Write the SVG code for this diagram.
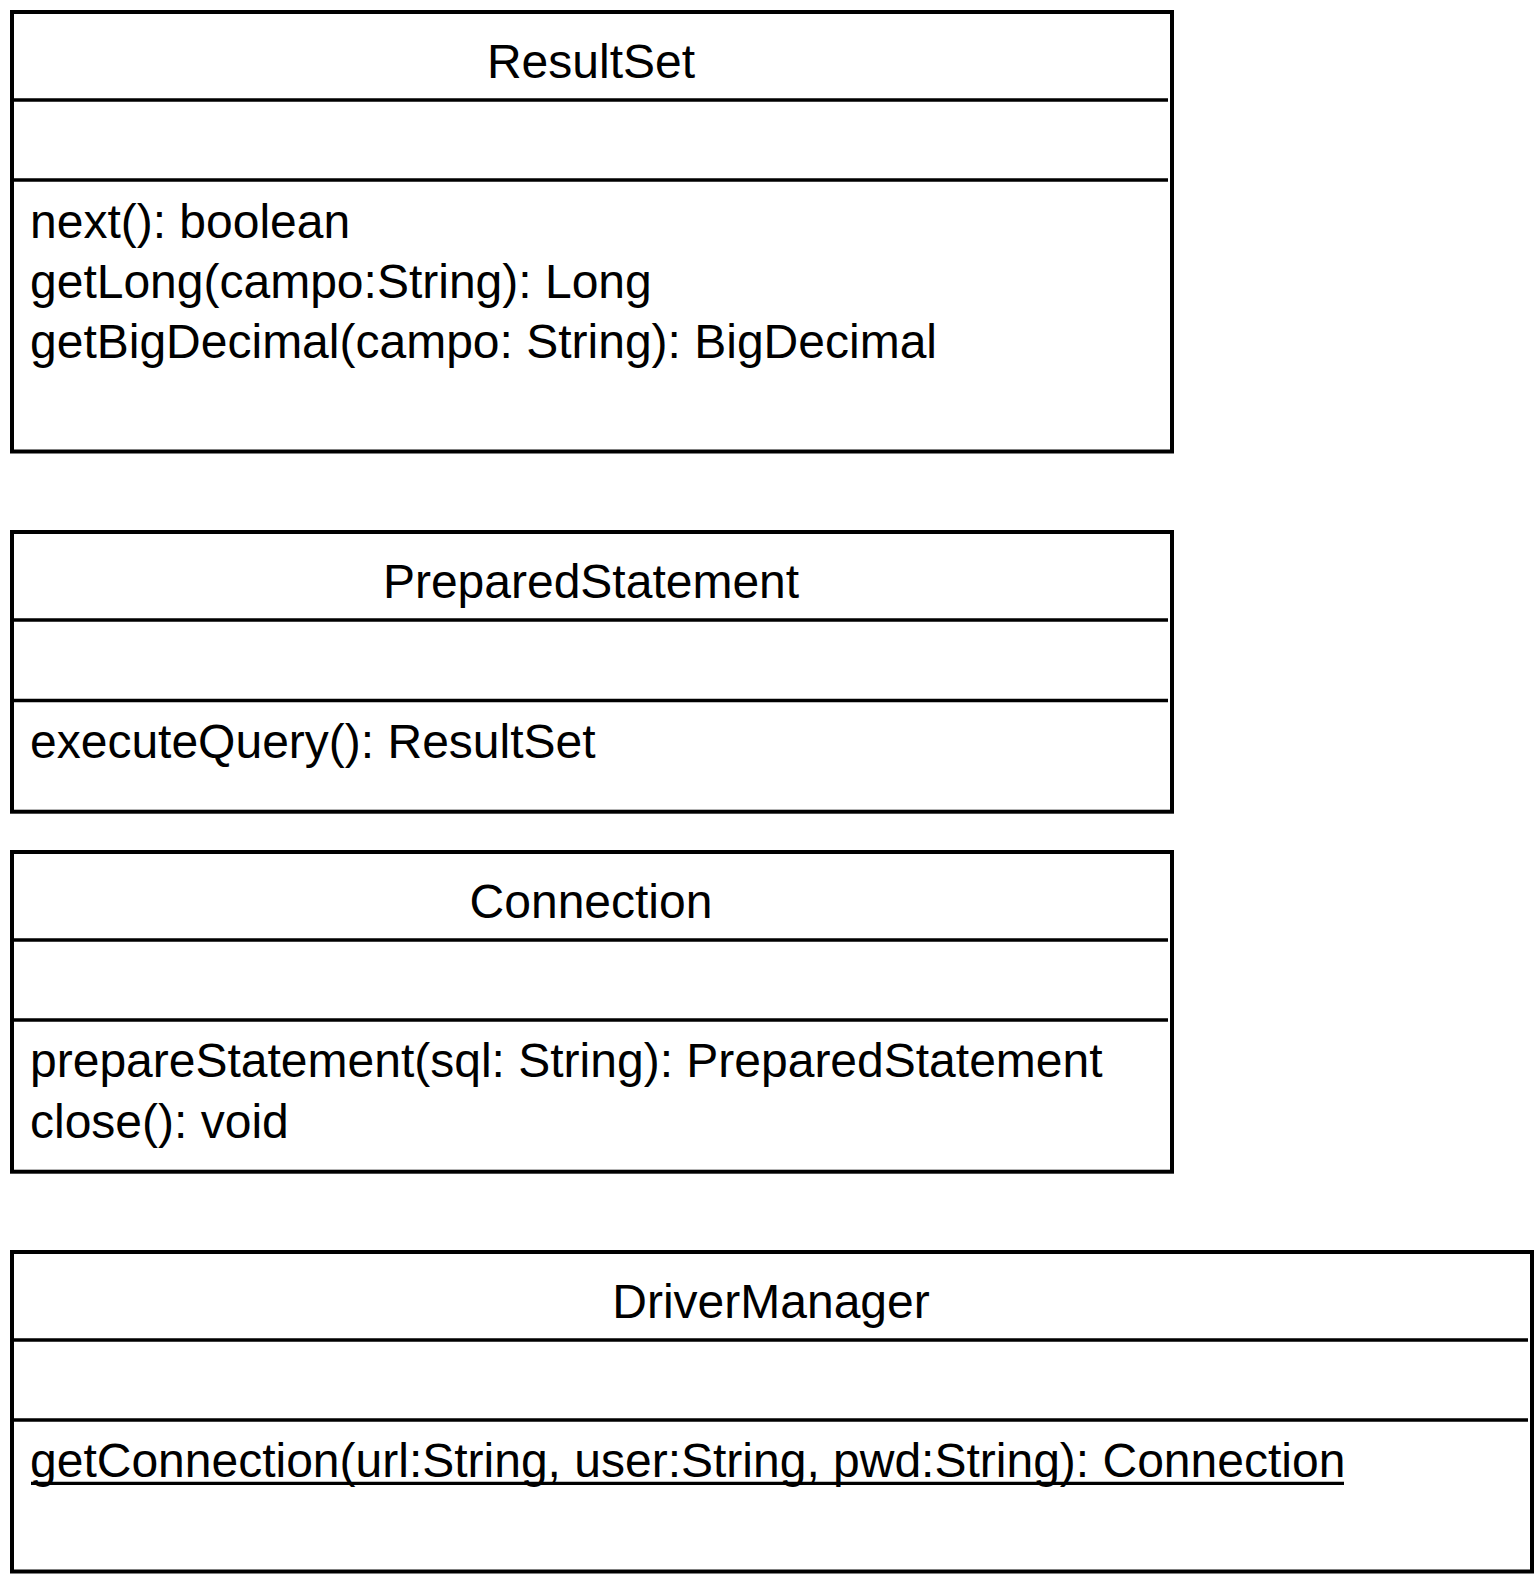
<svg xmlns="http://www.w3.org/2000/svg" width="1540" height="1580" viewBox="0 0 1540 1580">
<style>
.box{fill:#fff;stroke:#000;stroke-width:4}
.div{stroke:#000;stroke-width:3.4;fill:none}
.t{font-family:"Liberation Sans",Arial,sans-serif;font-size:48px;fill:#000}
.c{text-anchor:middle}
</style>
<rect width="1540" height="1580" fill="#fff"/>
<g id="connectors"></g>
<g id="ResultSet">
<rect class="box" x="12" y="12" width="1160" height="439.5"/>
<line class="div" x1="12" y1="100" x2="1168" y2="100"/>
<line class="div" x1="12" y1="180" x2="1168" y2="180"/>
<text class="t c" x="591" y="78.3">ResultSet</text>
<text class="t" x="30" y="238">next(): boolean</text>
<text class="t" x="30" y="298">getLong(campo:String): Long</text>
<text class="t" x="30" y="358">getBigDecimal(campo: String): BigDecimal</text>
</g>
<g id="PreparedStatement">
<rect class="box" x="12" y="532" width="1160" height="279.7"/>
<line class="div" x1="12" y1="620" x2="1168" y2="620"/>
<line class="div" x1="12" y1="700.5" x2="1168" y2="700.5"/>
<text class="t c" x="591" y="598.3">PreparedStatement</text>
<text class="t" x="30" y="758.3">executeQuery(): ResultSet</text>
</g>
<g id="Connection">
<rect class="box" x="12" y="852" width="1160" height="319.7"/>
<line class="div" x1="12" y1="940" x2="1168" y2="940"/>
<line class="div" x1="12" y1="1020" x2="1168" y2="1020"/>
<text class="t c" x="591" y="918.3">Connection</text>
<text class="t" x="30" y="1076.7">prepareStatement(sql: String): PreparedStatement</text>
<text class="t" x="30" y="1137.7">close(): void</text>
</g>
<g id="DriverManager">
<rect class="box" x="12" y="1252" width="1520" height="319.5"/>
<line class="div" x1="12" y1="1340" x2="1528" y2="1340"/>
<line class="div" x1="12" y1="1420" x2="1528" y2="1420"/>
<text class="t c" x="771" y="1318.3">DriverManager</text>
<text class="t" x="30" y="1477">getConnection(url:String, user:String, pwd:String): Connection</text>
<line x1="31" y1="1483.3" x2="1344" y2="1483.3" stroke="#000" stroke-width="3.3"/>
</g>
</svg>
